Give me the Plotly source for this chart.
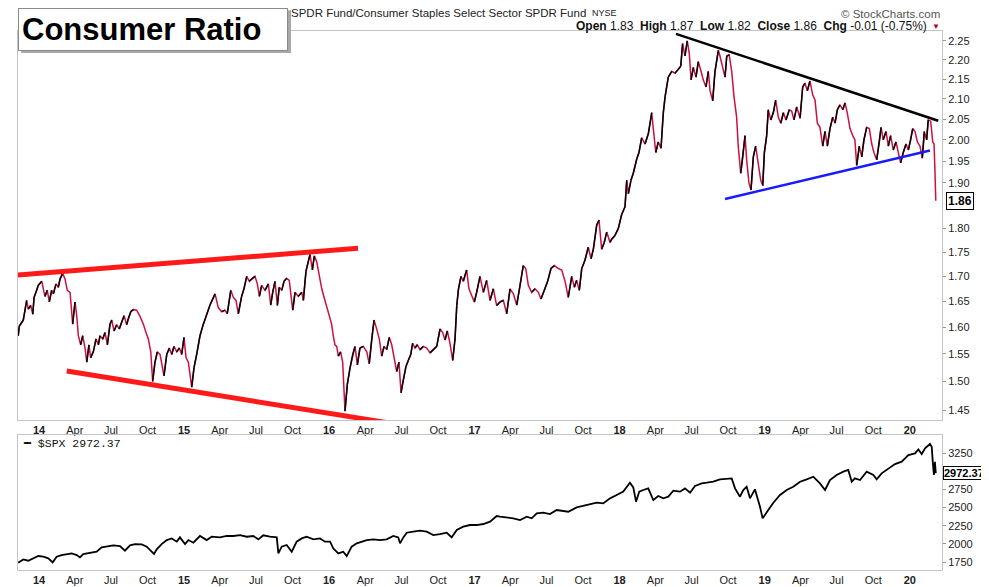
import numpy as np
import pandas as pd
import plotly.graph_objects as go

# XLY:XLP ratio, sample times as decimal years
t_ratio = [
    2013.857, 2013.864, 2013.892, 2013.915, 2013.926, 2013.943, 2013.957, 2013.966, 2013.984, 2013.995,
    2014.019, 2014.041, 2014.057, 2014.071, 2014.087, 2014.099, 2014.117, 2014.133, 2014.145, 2014.163,
    2014.179, 2014.195, 2014.214, 2014.232, 2014.248, 2014.260, 2014.271, 2014.287, 2014.301, 2014.317,
    2014.329, 2014.344, 2014.356, 2014.374, 2014.393, 2014.409, 2014.420, 2014.439, 2014.455, 2014.471,
    2014.489, 2014.501, 2014.517, 2014.535, 2014.553, 2014.570, 2014.586, 2014.604, 2014.615, 2014.632,
    2014.650, 2014.673, 2014.696, 2014.719, 2014.737, 2014.753, 2014.770, 2014.783, 2014.799, 2014.815,
    2014.834, 2014.845, 2014.861, 2014.880, 2014.898, 2014.914, 2014.930, 2014.949, 2014.967, 2014.983,
    2014.999, 2015.013, 2015.029, 2015.052, 2015.068, 2015.086, 2015.109, 2015.132, 2015.155, 2015.178,
    2015.213, 2015.235, 2015.259, 2015.281, 2015.297, 2015.321, 2015.339, 2015.357, 2015.373, 2015.396,
    2015.412, 2015.431, 2015.449, 2015.465, 2015.488, 2015.504, 2015.518, 2015.534, 2015.557, 2015.580,
    2015.596, 2015.610, 2015.626, 2015.642, 2015.655, 2015.672, 2015.688, 2015.706, 2015.724, 2015.748,
    2015.764, 2015.786, 2015.810, 2015.821, 2015.839, 2015.855, 2015.867, 2015.883, 2015.897, 2015.913,
    2015.931, 2015.948, 2015.970, 2015.993, 2016.016, 2016.027, 2016.039, 2016.051, 2016.062, 2016.078,
    2016.092, 2016.108, 2016.124, 2016.143, 2016.161, 2016.177, 2016.193, 2016.211, 2016.234, 2016.258,
    2016.275, 2016.292, 2016.308, 2016.326, 2016.344, 2016.361, 2016.377, 2016.395, 2016.413, 2016.430,
    2016.446, 2016.464, 2016.480, 2016.494, 2016.510, 2016.528, 2016.544, 2016.561, 2016.574, 2016.590,
    2016.606, 2016.625, 2016.647, 2016.671, 2016.694, 2016.716, 2016.740, 2016.763, 2016.781, 2016.797,
    2016.813, 2016.831, 2016.850, 2016.866, 2016.878, 2016.890, 2016.907, 2016.923, 2016.946, 2016.962,
    2016.981, 2016.999, 2017.015, 2017.038, 2017.061, 2017.084, 2017.107, 2017.130, 2017.153, 2017.176,
    2017.199, 2017.222, 2017.245, 2017.268, 2017.291, 2017.314, 2017.336, 2017.353, 2017.371, 2017.394,
    2017.417, 2017.440, 2017.458, 2017.481, 2017.504, 2017.527, 2017.550, 2017.578, 2017.601, 2017.624,
    2017.646, 2017.670, 2017.688, 2017.704, 2017.722, 2017.739, 2017.761, 2017.784, 2017.803, 2017.819,
    2017.842, 2017.858, 2017.876, 2017.894, 2017.911, 2017.934, 2017.945, 2017.968, 2017.991, 2018.014,
    2018.037, 2018.049, 2018.060, 2018.078, 2018.094, 2018.118, 2018.133, 2018.152, 2018.175, 2018.198,
    2018.221, 2018.232, 2018.249, 2018.266, 2018.285, 2018.301, 2018.313, 2018.335, 2018.359, 2018.381,
    2018.404, 2018.421, 2018.434, 2018.450, 2018.466, 2018.480, 2018.492, 2018.508, 2018.526, 2018.542,
    2018.561, 2018.576, 2018.595, 2018.611, 2018.623, 2018.641, 2018.657, 2018.680, 2018.691, 2018.710,
    2018.726, 2018.738, 2018.755, 2018.772, 2018.788, 2018.806, 2018.817, 2018.834, 2018.848, 2018.864,
    2018.875, 2018.891, 2018.905, 2018.921, 2018.937, 2018.955, 2018.972, 2018.986, 2018.997, 2019.013,
    2019.024, 2019.041, 2019.059, 2019.075, 2019.093, 2019.110, 2019.128, 2019.146, 2019.169, 2019.185,
    2019.201, 2019.220, 2019.243, 2019.261, 2019.277, 2019.293, 2019.311, 2019.330, 2019.346, 2019.362,
    2019.380, 2019.399, 2019.415, 2019.431, 2019.449, 2019.468, 2019.484, 2019.500, 2019.518, 2019.537,
    2019.553, 2019.568, 2019.587, 2019.606, 2019.621, 2019.633, 2019.651, 2019.668, 2019.683, 2019.702,
    2019.720, 2019.737, 2019.752, 2019.771, 2019.789, 2019.801, 2019.816, 2019.835, 2019.851, 2019.867,
    2019.885, 2019.904, 2019.920, 2019.936, 2019.954, 2019.973, 2019.989, 2020.005, 2020.019, 2020.035,
    2020.051, 2020.069, 2020.085, 2020.099, 2020.115, 2020.126, 2020.143, 2020.157, 2020.166, 2020.172,
    2020.178,
]
ratio = [
    1.584, 1.602, 1.614, 1.652, 1.635, 1.642, 1.625, 1.658, 1.672, 1.682,
    1.690, 1.660, 1.672, 1.649, 1.672, 1.665, 1.685, 1.678, 1.695, 1.706,
    1.695, 1.672, 1.668, 1.606, 1.649, 1.622, 1.584, 1.567, 1.584, 1.561,
    1.535, 1.567, 1.543, 1.554, 1.578, 1.567, 1.584, 1.578, 1.590, 1.567,
    1.606, 1.614, 1.593, 1.605, 1.597, 1.610, 1.622, 1.605, 1.617, 1.630,
    1.634, 1.633, 1.621, 1.606, 1.590, 1.578, 1.554, 1.500, 1.535, 1.554,
    1.549, 1.535, 1.510, 1.549, 1.561, 1.549, 1.564, 1.554, 1.561, 1.549,
    1.581, 1.543, 1.535, 1.490, 1.525, 1.549, 1.584, 1.606, 1.624, 1.643,
    1.665, 1.638, 1.630, 1.633, 1.626, 1.672, 1.658, 1.652, 1.626, 1.660,
    1.675, 1.700, 1.690, 1.695, 1.700, 1.685, 1.660, 1.682, 1.672, 1.685,
    1.643, 1.668, 1.690, 1.642, 1.678, 1.672, 1.690, 1.696, 1.692, 1.633,
    1.668, 1.660, 1.668, 1.652, 1.710, 1.730, 1.745, 1.713, 1.742, 1.730,
    1.700, 1.675, 1.652, 1.626, 1.606, 1.584, 1.567, 1.564, 1.546, 1.554,
    1.535, 1.448, 1.495, 1.525, 1.549, 1.564, 1.530, 1.561, 1.564, 1.554,
    1.532, 1.578, 1.614, 1.597, 1.578, 1.546, 1.564, 1.558, 1.581, 1.567,
    1.543, 1.518, 1.535, 1.480, 1.503, 1.527, 1.538, 1.549, 1.570, 1.561,
    1.567, 1.558, 1.564, 1.561, 1.552, 1.558, 1.564, 1.597, 1.590, 1.576,
    1.593, 1.570, 1.538, 1.578, 1.642, 1.675, 1.700, 1.690, 1.713, 1.675,
    1.660, 1.649, 1.668, 1.700, 1.668, 1.692, 1.652, 1.675, 1.642, 1.649,
    1.652, 1.626, 1.675, 1.665, 1.643, 1.682, 1.722, 1.716, 1.682, 1.668,
    1.675, 1.668, 1.655, 1.672, 1.690, 1.716, 1.722, 1.716, 1.713, 1.690,
    1.658, 1.700, 1.678, 1.692, 1.672, 1.716, 1.733, 1.760, 1.736, 1.756,
    1.807, 1.818, 1.756, 1.770, 1.792, 1.770, 1.777, 1.785, 1.800, 1.830,
    1.847, 1.906, 1.876, 1.906, 1.922, 1.955, 1.970, 2.005, 1.990, 2.015,
    2.066, 2.027, 1.970, 1.995, 1.980, 2.066, 2.105, 2.155, 2.170, 2.165,
    2.175, 2.183, 2.243, 2.210, 2.250, 2.216, 2.148, 2.180, 2.155, 2.195,
    2.170, 2.148, 2.130, 2.170, 2.120, 2.095, 2.170, 2.225, 2.210, 2.180,
    2.155, 2.210, 2.213, 2.170, 2.105, 2.055, 1.985, 1.922, 1.960, 2.010,
    1.953, 1.900, 1.884, 1.960, 1.985, 1.940, 1.906, 1.894, 1.970, 2.010,
    2.073, 2.048, 2.066, 2.097, 2.055, 2.040, 2.066, 2.048, 2.073, 2.070,
    2.048, 2.080, 2.052, 2.130, 2.140, 2.120, 2.145, 2.110, 2.097, 2.040,
    2.030, 1.985, 2.020, 1.985, 2.027, 2.055, 2.040, 2.073, 2.085, 2.073,
    2.090, 2.066, 2.027, 2.010, 2.000, 1.940, 1.985, 1.960, 2.000, 2.030,
    2.027, 1.990, 1.970, 1.953, 1.995, 2.030, 2.000, 2.020, 1.985, 2.010,
    1.976, 1.995, 1.970, 1.946, 1.970, 1.990, 1.976, 2.000, 2.027, 2.020,
    1.995, 1.985, 1.957, 2.020, 2.000, 2.048, 2.045, 1.995, 1.990, 1.930,
    1.860,
]

# $SPX, sample times as decimal years
t_spx = [
    2013.857, 2013.892, 2013.926, 2013.961, 2013.995, 2014.030, 2014.064, 2014.094, 2014.122, 2014.156,
    2014.191, 2014.225, 2014.260, 2014.282, 2014.305, 2014.351, 2014.397, 2014.432, 2014.466, 2014.512,
    2014.558, 2014.592, 2014.627, 2014.661, 2014.708, 2014.742, 2014.776, 2014.792, 2014.811, 2014.845,
    2014.880, 2014.914, 2014.949, 2014.971, 2015.006, 2015.029, 2015.063, 2015.086, 2015.109, 2015.155,
    2015.190, 2015.247, 2015.293, 2015.339, 2015.385, 2015.431, 2015.476, 2015.511, 2015.545, 2015.591,
    2015.638, 2015.649, 2015.672, 2015.706, 2015.741, 2015.775, 2015.810, 2015.844, 2015.890, 2015.936,
    2015.970, 2016.005, 2016.027, 2016.062, 2016.096, 2016.120, 2016.154, 2016.189, 2016.223, 2016.258,
    2016.303, 2016.349, 2016.395, 2016.441, 2016.475, 2016.487, 2016.510, 2016.533, 2016.579, 2016.625,
    2016.671, 2016.716, 2016.762, 2016.809, 2016.843, 2016.878, 2016.923, 2016.969, 2017.015, 2017.061,
    2017.107, 2017.153, 2017.176, 2017.222, 2017.267, 2017.314, 2017.360, 2017.394, 2017.429, 2017.474,
    2017.520, 2017.566, 2017.612, 2017.646, 2017.704, 2017.773, 2017.842, 2017.887, 2017.934, 2017.980,
    2018.025, 2018.071, 2018.094, 2018.113, 2018.135, 2018.163, 2018.197, 2018.232, 2018.266, 2018.301,
    2018.335, 2018.370, 2018.416, 2018.450, 2018.485, 2018.519, 2018.565, 2018.600, 2018.645, 2018.691,
    2018.738, 2018.772, 2018.795, 2018.829, 2018.852, 2018.875, 2018.898, 2018.932, 2018.967, 2018.985,
    2019.024, 2019.059, 2019.105, 2019.151, 2019.196, 2019.243, 2019.289, 2019.334, 2019.380, 2019.415,
    2019.449, 2019.495, 2019.541, 2019.575, 2019.599, 2019.621, 2019.656, 2019.702, 2019.748, 2019.771,
    2019.805, 2019.851, 2019.897, 2019.943, 2019.989, 2020.035, 2020.058, 2020.081, 2020.104, 2020.138,
    2020.150, 2020.158, 2020.165, 2020.172, 2020.178,
]
spx = [
    1740, 1786, 1768, 1800, 1832, 1823, 1800, 1745, 1823, 1846,
    1860, 1869, 1846, 1814, 1860, 1878, 1892, 1952, 1961, 1979,
    1970, 1906, 1979, 1997, 1993, 1961, 1892, 1860, 1924, 1997,
    2052, 2075, 2030, 2089, 1997, 2052, 2016, 2062, 2108, 2052,
    2098, 2089, 2108, 2108, 2121, 2098, 2108, 2062, 2117, 2098,
    2089, 1870, 1961, 1984, 1892, 2030, 2075, 2098, 2062, 2075,
    2030, 2030, 1938, 1869, 1892, 1832, 1961, 2007, 2030, 2052,
    2062, 2052, 2062, 2108, 2089, 2007, 2089, 2153, 2167, 2181,
    2167, 2121, 2135, 2153, 2089, 2190, 2236, 2259, 2259, 2273,
    2305, 2383, 2374, 2364, 2351, 2328, 2374, 2351, 2419, 2429,
    2410, 2465, 2456, 2442, 2502, 2534, 2566, 2557, 2626, 2672,
    2718, 2841, 2777, 2580, 2718, 2741, 2763, 2603, 2658, 2626,
    2649, 2731, 2718, 2763, 2704, 2796, 2832, 2841, 2855, 2887,
    2901, 2901, 2763, 2649, 2741, 2786, 2626, 2750, 2511, 2351,
    2465, 2566, 2672, 2741, 2786, 2855, 2887, 2924, 2832, 2741,
    2878, 2947, 2993, 3016, 2855, 2901, 2878, 2993, 2947, 2887,
    2970, 3039, 3098, 3130, 3222, 3245, 3300, 3236, 3314, 3374,
    3337, 3108, 2947, 3130, 2972.37,
]

# hand-drawn trend lines: [start year, start value, end year, end value]
red_top = [2013.823, 1.702, 2016.198, 1.758]
red_bottom = [2014.191, 1.519, 2016.406, 1.428]
black_top = [2018.388, 2.269, 2020.195, 2.046]
blue_bottom = [2018.726, 1.864, 2020.138, 1.975]

# 1.85 and 3000 sit under the last-value tags, so they are left out
ratio_ticks = [1.45, 1.50, 1.55, 1.60, 1.65, 1.70, 1.75, 1.80, 1.90, 1.95, 2.00, 2.05, 2.10, 2.15, 2.20, 2.25]
spx_ticks = [1750, 2000, 2250, 2500, 2750, 3250]

RED = "#cc1040"
FONT = "Liberation Sans, Arial, sans-serif"


def to_date(t):
    t = np.asarray(t, dtype=float)
    return pd.Timestamp("2014-01-01") + pd.to_timedelta((t - 2014) * 365.25, unit="D")


dr = to_date(t_ratio)
ds = to_date(t_spx)

# black on up moves, red on down moves
ux, uy = [], []
for i in range(len(ratio) - 1):
    if ratio[i + 1] > ratio[i]:
        ux += [dr[i], dr[i + 1], None]
        uy += [ratio[i], ratio[i + 1], None]

fig = go.Figure()
fig.add_trace(go.Scatter(x=dr, y=ratio, mode="lines", line=dict(color=RED, width=1.5),
                         xaxis="x", yaxis="y", hoverinfo="skip"))
fig.add_trace(go.Scatter(x=ux, y=uy, mode="lines", line=dict(color="black", width=1.5),
                         connectgaps=False, xaxis="x", yaxis="y", hoverinfo="skip"))

for seg, col, w in [(red_top, "#ff1a1a", 5), (red_bottom, "#ff1a1a", 5),
                    (black_top, "black", 2.5), (blue_bottom, "#1a1aff", 2.5)]:
    fig.add_trace(go.Scatter(x=to_date([seg[0], seg[2]]), y=[seg[1], seg[3]], mode="lines",
                             line=dict(color=col, width=w), xaxis="x", yaxis="y", hoverinfo="skip"))

fig.add_trace(go.Scatter(x=ds, y=spx, mode="lines", line=dict(color="black", width=1.8),
                         xaxis="x2", yaxis="y2", hoverinfo="skip"))

qdates = pd.date_range("2014-01-01", "2020-01-01", freq="QS")
qtext = ["<b>%02d</b>" % (d.year % 100) if d.month == 1 else d.strftime("%b") for d in qdates]
xr = [to_date([2013.8553])[0], to_date([2020.2208])[0]]

axis_common = dict(showline=True, mirror=True, linecolor="#c4c4c4", linewidth=1,
                   showgrid=False, zeroline=False, automargin=False)
xcommon = dict(axis_common, range=xr, tickvals=qdates, ticktext=qtext, ticks="",
               tickfont=dict(family=FONT, size=11, color="#222"))
ycommon = dict(axis_common, side="right", ticks="outside", ticklen=3, tickcolor="#999",
               tickfont=dict(family=FONT, size=11, color="#222"))

# the page body adds an 8px offset, so the figure is 8px smaller on the left and top
fig.update_layout(
    width=981, height=579,
    margin=dict(l=10, r=47, t=23, b=17, autoexpand=False),
    paper_bgcolor="white", plot_bgcolor="white",
    showlegend=False,
    xaxis=dict(xcommon, domain=[0, 1], anchor="y"),
    xaxis2=dict(xcommon, domain=[0, 1], anchor="y2", matches="x"),
    yaxis=dict(ycommon, domain=[0.2783, 1], anchor="x", type="log",
               range=[0.1562, 0.3573], tickvals=ratio_ticks, tickformat=".2f"),
    yaxis2=dict(ycommon, domain=[0, 0.2505], anchor="x2", range=[1640, 3498],
                tickvals=spx_ticks),
)

# shadow of the title box
fig.add_shape(type="rect", xref="paper", yref="paper", x0=0.0035, x1=0.2955, y0=0.9592, y1=1.0385,
              fillcolor="#a8a8a8", line_width=0, layer="above")

ann = [
    dict(text="SPDR Fund/Consumer Staples Select Sector SPDR Fund",
         x=0.2935, y=1.0334, xanchor="left", yanchor="middle",
         font=dict(family=FONT, size=11.5, color="#222")),
    dict(text="NYSE", x=0.6190, y=1.0334, xanchor="left", yanchor="middle",
         font=dict(family=FONT, size=9, color="#222")),
    dict(text="© StockCharts.com", x=1.0, y=1.0316, xanchor="right", yanchor="middle",
         font=dict(family=FONT, size=11.5, color="#555")),
    dict(text="<b>Open</b> 1.83  <b>High</b> 1.87  <b>Low</b> 1.82  <b>Close</b> 1.86  <b>Chg</b> -0.01 (-0.75%)",
         x=0.9859, y=1.0084, xanchor="right", yanchor="middle",
         font=dict(family=FONT, size=12, color="#111")),
    dict(text="▼", x=0.9935, y=1.0084, xanchor="center", yanchor="middle",
         font=dict(family=FONT, size=8, color="#b00020")),
    dict(text="<b>Consumer Ratio</b>", x=0.0, y=1.0427, xanchor="left", yanchor="top",
         width=262, height=35, align="left", valign="middle",
         bgcolor="white", bordercolor="#8a8a8a", borderwidth=1, borderpad=3,
         font=dict(family=FONT, size=31, color="black")),
    dict(text="<b>━</b> $SPX 2972.37", x=0.003, y=0.986 * 0.2505 + 0.003, xanchor="left", yanchor="top",
         font=dict(family="Liberation Mono, monospace", size=11.5, color="#111")),
]
for a in ann:
    fig.add_annotation(xref="paper", yref="paper", showarrow=False, **a)

# last-value tags
fig.add_annotation(text="<b>%.2f</b>" % ratio[-1], xref="paper", yref="y", x=1.0045,
                   y=np.log10(ratio[-1]), xanchor="left", yanchor="middle", showarrow=False,
                   bgcolor="white", bordercolor="black", borderwidth=1, borderpad=1,
                   font=dict(family=FONT, size=12, color="black"))
fig.add_annotation(text="<b>%.2f</b>" % spx[-1], xref="paper", yref="y2", x=1.001,
                   y=spx[-1], xanchor="left", yanchor="middle", showarrow=False,
                   bgcolor="white", bordercolor="black", borderwidth=1, borderpad=0,
                   font=dict(family=FONT, size=11, color="black"))

fig.write_html("out.html")
